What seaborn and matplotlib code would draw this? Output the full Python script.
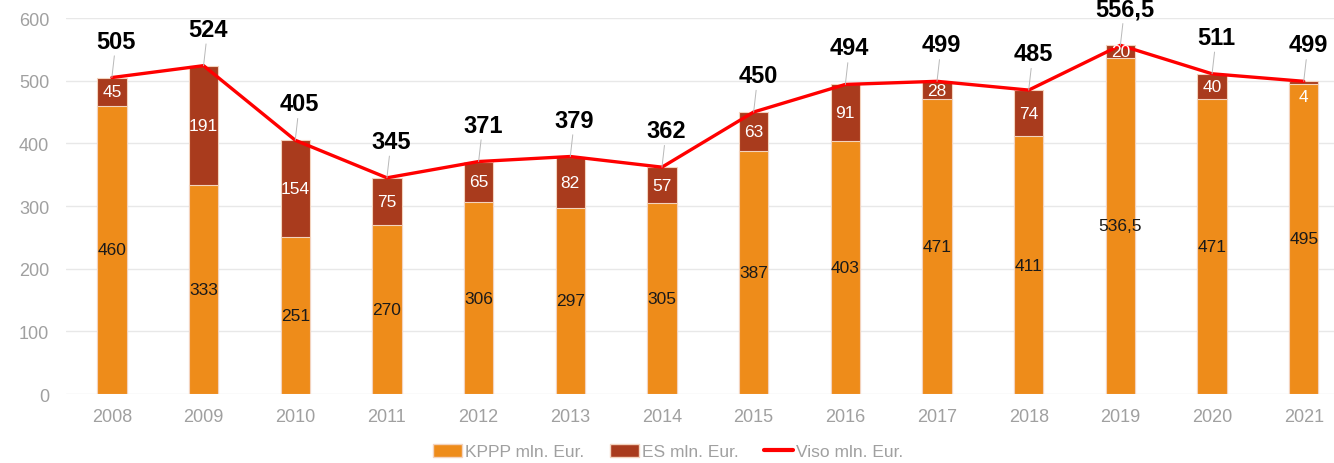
import numpy as np
import pandas as pd
import matplotlib
matplotlib.use('Agg')
import matplotlib.pyplot as plt
import seaborn as sns
from matplotlib.patches import Patch
from matplotlib.lines import Line2D

# values (mln. Eur.)
years = ['2008', '2009', '2010', '2011', '2012', '2013', '2014',
         '2015', '2016', '2017', '2018', '2019', '2020', '2021']
kppp = [460, 333, 251, 270, 306, 297, 305, 387, 403, 471, 411, 536.5, 471, 495]
es = [45, 191, 154, 75, 65, 82, 57, 63, 91, 28, 74, 20, 40, 4]
viso = [505, 524, 405, 345, 371, 379, 362, 450, 494, 499, 485, 556.5, 511, 499]

sns.set_style('white')
plt.rcParams['font.family'] = ['Liberation Sans', 'DejaVu Sans']

df = pd.DataFrame({'year': years, 'kppp': kppp, 'es': es, 'viso': viso})
df['total'] = df['kppp'] + df['es']

orange = '#EE8C1A'
brown = '#A93B1D'
red = '#FF0000'
grey = '#A0A0A0'

fig = plt.figure(figsize=(13.34, 4.64), dpi=100)
ax = fig.add_axes([0.0495, 0.1487, 0.9505, 0.8103])

# stacked bars: total (brown) behind, KPPP (orange) on top
sns.barplot(data=df, x='year', y='total', color=brown, width=0.32,
            edgecolor='#F3D3BE', linewidth=0.8, saturation=1, ax=ax, zorder=2)
sns.barplot(data=df, x='year', y='kppp', color=orange, width=0.32,
            edgecolor='#F3D3BE', linewidth=0.8, saturation=1, ax=ax, zorder=3)

xs = np.arange(len(years))
sns.lineplot(x=xs, y=df['viso'], color=red, linewidth=2.4, sort=False, ax=ax, zorder=5)

fmt = lambda v: (f'{v:g}').replace('.', ',')

for i in range(len(years)):
    k = df['kppp'][i]
    e = df['es'][i]
    ax.text(i, k / 2, fmt(k), ha='center', va='center', fontsize=12.5,
            color='#1a1a1a', zorder=6)
    ey = k + e / 2 if e >= 10 else k - 20
    ax.text(i, ey, fmt(e), ha='center', va='center', fontsize=12.5,
            color='white', zorder=6)
    ax.annotate(fmt(df['viso'][i]), xy=(i, df['viso'][i]), xytext=(3, 18),
                textcoords='offset points', ha='center', va='bottom',
                fontsize=17, fontweight='bold', color='black', zorder=7,
                arrowprops=dict(arrowstyle='-', color='#B8B8B8', lw=0.7,
                                shrinkA=0, shrinkB=0))

ax.set_xlim(-0.5, 13.33)
ax.set_ylim(0, 600)
ax.set_yticks(range(0, 601, 100))
ax.yaxis.grid(True, color='#E8E8E8', linewidth=1)
ax.set_axisbelow(True)
for s in ax.spines.values():
    s.set_visible(False)
ax.set_xlabel('')
ax.set_ylabel('')
ax.tick_params(axis='both', length=0, labelsize=13, labelcolor=grey)
ax.tick_params(axis='x', pad=10)
ax.tick_params(axis='y', pad=12)

handles = [Patch(facecolor=orange, edgecolor='#F3D3BE'),
           Patch(facecolor=brown, edgecolor='#F3D3BE'),
           Line2D([], [], color=red, linewidth=3)]
labels = ['KPPP mln. Eur.', 'ES mln. Eur.', 'Viso mln. Eur.']
fig.legend(handles, labels, loc='lower center', bbox_to_anchor=(0.501, -0.026),
           ncol=3, frameon=False, fontsize=12.5, labelcolor=grey,
           handlelength=1.65, handleheight=0.8, handletextpad=0.2,
           columnspacing=1.45)

fig.savefig('out.png', dpi=100)
